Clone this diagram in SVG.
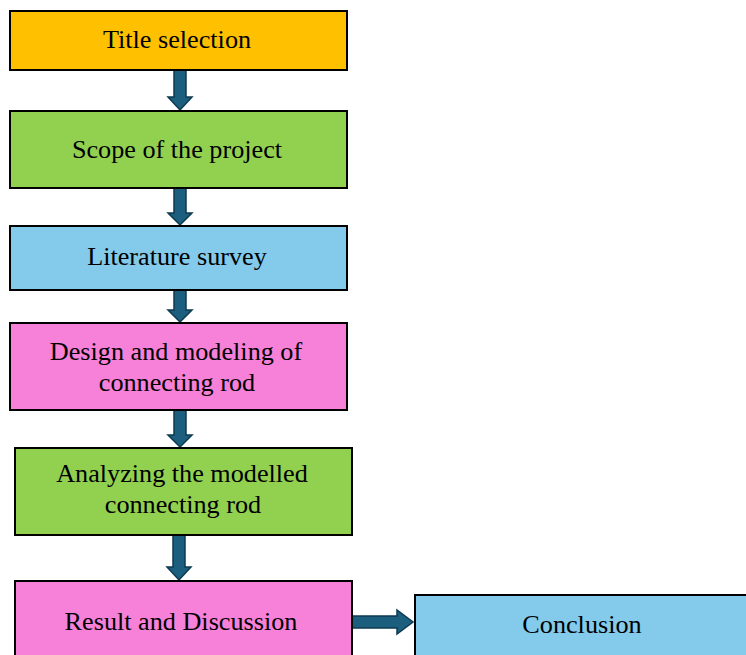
<svg xmlns="http://www.w3.org/2000/svg" width="746" height="655" viewBox="0 0 746 655">
<style>
.box{stroke:#000;stroke-width:2}
.t{font-family:"Liberation Serif","Times New Roman",serif;font-size:26.2px;fill:#000;text-anchor:middle}
.arr{fill:#1B5E7E;stroke:#0E3A50;stroke-width:1.5;stroke-linejoin:miter}
</style>
<rect width="746" height="655" fill="#fff"/>
<g id="connectors">
<path class="arr" d="M174,70 H186 V97 H192 L180,110 L168,97 H174 Z"/>
<path class="arr" d="M174,188 H186 V213 H192 L180,225 L168,213 H174 Z"/>
<path class="arr" d="M174,290 H186 V310 H192 L180,322 L168,310 H174 Z"/>
<path class="arr" d="M174,410 H186 V435 H192 L180,447 L168,435 H174 Z"/>
<path class="arr" d="M173,535 H185 V567 H191 L179,580 L167,567 H173 Z"/>
<path class="arr" d="M352,616 H397 V610 L413,622 L397,634 V628 H352 Z"/>
</g>
<g id="n1"><rect class="box" x="10" y="11" width="337" height="59" fill="#FFC000"/><text class="t" x="177" y="48">Title selection</text></g>
<g id="n2"><rect class="box" x="10" y="111" width="337" height="77" fill="#92D050"/><text class="t" x="177" y="158">Scope of the project</text></g>
<g id="n3"><rect class="box" x="10" y="226" width="337" height="64" fill="#83CAEB"/><text class="t" x="177" y="265">Literature survey</text></g>
<g id="n4"><rect class="box" x="10" y="323" width="337" height="87" fill="#F780D8"/><text class="t" x="176" y="360">Design and modeling of</text><text class="t" x="177" y="391">connecting rod</text></g>
<g id="n5"><rect class="box" x="15" y="448" width="337" height="87" fill="#92D050"/><text class="t" x="182" y="482">Analyzing the modelled</text><text class="t" x="183" y="513">connecting rod</text></g>
<g id="n6"><rect class="box" x="15" y="581" width="337" height="80" fill="#F780D8"/><text class="t" x="181" y="630">Result and Discussion</text></g>
<g id="n7"><rect class="box" x="415" y="595" width="340" height="70" fill="#83CAEB"/><text class="t" x="582" y="633">Conclusion</text></g>
</svg>
